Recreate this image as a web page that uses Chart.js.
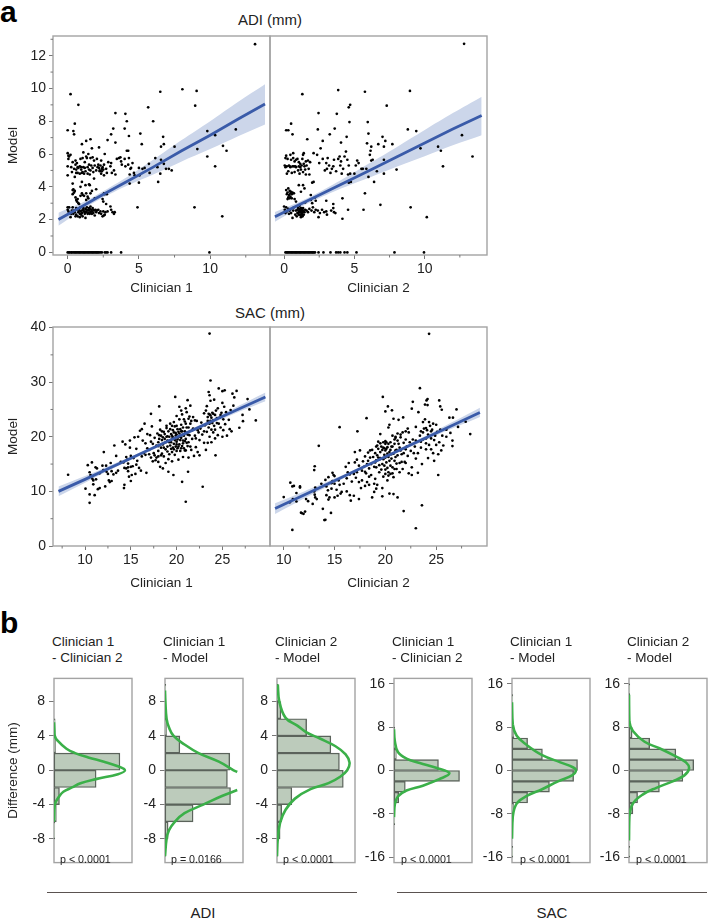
<!DOCTYPE html>
<html>
<head>
<meta charset="utf-8">
<title>ADI and SAC agreement</title>
<script src="https://cdn.jsdelivr.net/npm/chart.js@4"></script>
<style>
  html, body { margin: 0; padding: 0; background: #fff; overflow: hidden; }
  body { width: 708px; height: 921px; position: relative; font-family: 'Liberation Sans', Arial, sans-serif; color: #222; }
  canvas { position: absolute; }
  .txt { position: absolute; white-space: nowrap; line-height: 16px; }
  .mid { transform: translate(-50%, -50%); }
  .rule { position: absolute; height: 1.4px; background: #5a5250; }
</style>
</head>
<body>
<div class="txt" style="left:0;top:-5px;font:bold 30px 'Liberation Sans';line-height:34px;color:#000">a</div>
<div class="txt" style="left:0;top:606px;font:bold 30px 'Liberation Sans';line-height:34px;color:#000">b</div>
<div class="txt mid" style="left:270px;top:20px;font-size:15px">ADI (mm)</div>
<div class="txt mid" style="left:270px;top:313px;font-size:15px">SAC (mm)</div>
<div class="rule" style="left:47px;top:892px;width:310px"></div>
<div class="rule" style="left:397px;top:892px;width:310px"></div>
<div class="txt mid" style="left:203px;top:913px;font-size:15px">ADI</div>
<div class="txt mid" style="left:552px;top:913px;font-size:15px">SAC</div>
<script>
// --- regression fits ---
const adiClin1BandX = [-0.65, 1, 2, 4, 6, 8, 10, 12, 13.85];
const adiClin1Line = [2.0, 2.8, 3.3, 4.25, 5.2, 6.2, 7.15, 8.15, 9.05];
const adiClin1Upper = [2.42, 3.02, 3.48, 4.5, 5.65, 6.85, 8.0, 9.2, 10.25];
const adiClin1Lower = [1.62, 2.6, 3.12, 4.0, 4.75, 5.55, 6.3, 7.1, 7.8];

const adiClin2BandX = [-0.65, 1, 2, 4, 6, 8, 10, 12, 14.05];
const adiClin2Line = [2.17, 2.87, 3.28, 4.13, 4.97, 5.82, 6.67, 7.52, 8.35];
const adiClin2Upper = [2.47, 3.05, 3.45, 4.38, 5.4, 6.42, 7.47, 8.5, 9.5];
const adiClin2Lower = [1.87, 2.69, 3.11, 3.88, 4.54, 5.22, 5.87, 6.54, 7.15];

const sacClin1BandX = [7.1, 10, 14, 18, 22, 26, 29.7];
const sacClin1Line = [10, 12.2, 15.3, 18.4, 21.4, 24.5, 27.3];
const sacClin1Upper = [10.9, 12.8, 15.65, 18.65, 21.7, 25.0, 28.1];
const sacClin1Lower = [9.1, 11.6, 14.95, 18.15, 21.1, 24.0, 26.5];

const sacClin2BandX = [9.15, 12, 15, 18, 21, 25, 29.3];
const sacClin2Line = [6.85, 9.35, 11.95, 14.6, 17.2, 20.7, 24.45];
const sacClin2Upper = [7.85, 10.0, 12.35, 14.85, 17.45, 21.15, 25.3];
const sacClin2Lower = [5.85, 8.7, 11.55, 14.35, 16.95, 20.25, 23.6];

// --- scatter values, [clinician, model] ---
const adiClin1Points = [[13.15,12.7],[0.2,9.65],[0.75,9],[8.05,9.95],[9.05,9.85],[6.5,9.8],[8.95,8.95],[5.65,8.85],[3.35,8.5],[4.05,8.45],[4.15,8],[6,8],[0.5,7.85],[0,7.45],[0.4,7.4],[0.45,7.2],[3.2,7.55],[4,7.55],[3.05,7.2],[4.3,7.1],[5.1,7.25],[9.8,7.4],[10.35,7.15],[11.8,7.5],[6.7,7.05],[2.8,6.85],[3.35,6.7],[5.2,6.6],[6.75,6.6],[6.55,6.45],[7.5,6.45],[10.9,6.5],[11.15,6.2],[9.1,6.3],[9.8,5.85],[10.35,5.25],[8.9,2.75],[4.9,2.75],[10.85,2.2],[6.35,4.3],[5,4.25],[4.35,4.2],
[0,6.05],[0.05,5.9],[0.1,5.85],[0.2,5.95],[0,5.25],[0.05,5.7],[0,4.7],[0.25,5.2],[0.3,4.9],[0.35,5.5],[0.45,5.1],[0.5,4.6],[0.55,5.35],[0.55,5.6],[0.6,5.05],[0.65,5.45],[0.7,5.2],[0.7,4.85],[0.75,5.15],[0.85,5.25],[0.85,4.8],[0.9,5.7],[0.95,5.2],[1,4.85],[1,6.6],[1.05,5.75],[1.1,5.2],[1.1,6.1],[1.15,4.8],[1.2,5.5],[1.25,4.95],[1.3,6.8],[1.3,5.85],[1.35,5.75],[1.4,5.2],[1.4,4.8],[1.45,6],[1.5,5.35],[1.5,5.05],[1.55,4.75],[1.6,6.9],[1.6,5.75],[1.65,5.3],[1.7,6.35],[1.75,5.15],[1.75,5.8],[1.8,4.9],[1.85,5.6],[1.9,5.3],[2,5],[2.05,5.7],[2.1,5.2],[2.2,6.4],[2.2,5.15],[2.25,5],[2.3,5.3],[2.35,4.8],[2.35,5.6],[2.4,5.1],[2.45,5.2],[2.5,5.05],[2.55,4.7],[2.55,5.35],[2.6,6],[2.7,5.1],[2.75,4.85],[2.85,5.5],[3,5.25],[3.05,5.45],[3.1,4.85],[3.25,5],[3.35,4.75],[3.45,5.7],[3.6,5.75],[3.7,5.8],[3.75,5.55],[3.8,5.35],[4,5.7],[4.05,5.25],[4.15,6.2],[4.25,6.2],[4.3,5.75],[4.25,5.35],[4.4,5.1],[4.45,5.15],[4.55,5.45],[4.65,4.85],[4.7,4.7],[4.35,4.75],[5,5.15],[5.05,4.7],[5.25,5.1],[5.4,5.15],[5.7,5.4],[5.75,4.85],[6.15,5.75],[6.3,5.2],[6.55,5.65],[6.5,4.8],[6.9,5.1],[7.1,5.1],[7.3,5],[6.75,5.4],
[0.35,4.2],[0.4,3.85],[0.35,3.8],[0.5,3.75],[0.35,3.55],[0.55,3.35],[0.6,3.2],[0.65,3.1],[0.7,3.25],[0.75,3],[0.8,2.95],[1,4.3],[1.25,4.1],[1.3,3.6],[1.4,3.4],[1.45,3.3],[1.5,4.15],[1.55,4.1],[1,3.6],[0.9,3.45],[1.05,3.5],[1.15,3.45],[1.85,4.5],[1.7,3.75],[1.9,3.3],[2,3.85],[2.55,3.6],[2.6,3.55],[2.75,3.55],[2.45,3.25],[2.5,3.1],[2.7,2.95],[1.3,3.2],[0.45,3.65],[0.9,4],[1.6,3.6],
[0,2.75],[0,2.6],[0.05,2.5],[0.1,2.75],[0.1,2.4],[0.2,2.15],[0.3,2.55],[0.35,2.75],[0.4,2.35],[0.45,2.55],[0.5,2.45],[0.6,2.7],[0.6,2.3],[0.7,2.2],[0.75,2.45],[0.8,2.6],[0.85,2.35],[0.85,2.15],[0.9,2.75],[0.95,2.3],[1,2.55],[1,2.4],[1.05,2.2],[1.1,2.7],[1.15,2.5],[1.2,2.35],[1.25,2.1],[1.25,2.65],[1.3,2.45],[1.35,2.75],[1.4,2.55],[1.45,2.4],[1.5,2.7],[1.5,2.55],[1.55,2.35],[1.6,2.45],[1.6,2.8],[1.65,2.6],[1.7,2.5],[1.75,2.7],[1.8,2.4],[1.85,2.55],[1.9,2.25],[1.95,2.6],[2,2.45],[2.05,2.55],[2.2,2.4],[2.3,2.5],[2.35,2.35],[2.45,2.2],[2.5,2.5],[2.55,2.25],[2.65,2.45],[2.8,2.5],[3,2.8],[3.05,2.6],[3.15,2.45],[3.25,2.35],[3.3,2.45],
[0.9,2.5],[1.1,2.6],[1.2,2.45],[1.3,2.6],[1.4,2.35],[1.45,2.6],[1.55,2.65],[1.7,2.35],[1.8,2.6],[2.15,2.6],[2.6,2.3],[0.65,2.6],[0.55,2.2],[0.25,2.35],[1.2,5.15],[1.6,5],[2.15,5.35],[2.25,4.95],[2.4,4.95],[0.6,4.85],[1.05,4.9],[0.95,5.05]];
const adiClin1Zeros = [0,0.08,0.15,0.25,0.3,0.4,0.48,0.55,0.62,0.7,0.78,0.85,0.92,1,1.08,1.15,1.22,1.3,1.38,1.45,1.52,1.6,1.68,1.75,1.82,1.9,1.98,2.05,2.12,2.2,2.3,2.4,2.6,2.7,2.8,3.05,3.75,9.95];

const adiClin2Points = [[12.8,12.72],[1.3,9.65],[3.85,9.9],[5.75,9.8],[8.95,9.85],[4.7,9],[4.6,8.85],[7.3,8.95],[2.45,8.5],[3.75,8.45],[4.65,7.95],[5.95,7.95],[0.5,7.85],[0.15,7.45],[0.3,7.45],[0.6,7.2],[2.4,7.5],[3.6,7.55],[3.25,7.2],[4.45,7.05],[6,7.25],[4.05,6.7],[1.65,6.9],[8.8,7.5],[9.4,7.4],[12.65,7.15],[7,7.05],[7.2,6.8],[2.75,6.8],[5.9,6.65],[6.2,6.45],[6.7,6.6],[7.1,6.45],[7.7,6.6],[10.95,6.45],[11.15,6.2],[9.7,6.35],[13.4,5.85],[11.3,5.25],[9,2.75],[5.65,2.6],[6.85,2.9],[5.75,3.6],[4.55,2.6],[10.15,2.15],[4.15,2.05],[4.15,3.3],
[0.05,5.3],[0.1,5.75],[0.15,5.9],[0.1,5.2],[0.2,5.25],[0.25,5.7],[0.2,4.8],[0.3,4.95],[0.35,5.3],[0.45,5.95],[0.45,5.2],[0.5,5.65],[0.55,4.85],[0.6,5.25],[0.65,6.05],[0.65,5.75],[0.7,5.25],[0.75,4.9],[0.75,5.55],[0.85,5.65],[0.85,5.2],[0.95,5.7],[1,5],[1.05,5.25],[1.1,4.8],[1.15,5.4],[1.2,5.05],[1.25,5.3],[1.3,5.7],[1.35,5.95],[1.35,4.9],[1.4,6.05],[1.45,5.25],[1.5,5.05],[1.55,4.75],[1.6,5.3],[1.7,5.6],[1.75,5.1],[1.8,4.75],[1.85,5.5],[2,4.25],[2.1,6.05],[2.35,5.95],[2.5,5.45],[2.6,6.35],[2.75,5.7],[2.9,5],[3,5.45],[3.05,5.1],[3.1,5.75],[3.2,5.3],[3.3,4.85],[3.4,5.1],[3.5,5.25],[3.55,5.65],[3.7,4.95],[3.85,5.7],[3.95,5.85],[4,5.3],[4.05,5.55],[4.1,4.8],[4.2,5.1],[4.3,5.85],[4.4,6.15],[4.5,5.65],[4.55,4.75],[4.6,5.3],[4.7,4.8],[4.75,4.3],[4.6,4.25],[5,4.8],[5.1,5.3],[5.2,5.6],[5.3,5.45],[5.5,5.1],[5.6,5.1],[5.85,5.1],[6,4.6],[6.1,5.95],[6.15,6.2],[6.2,5.6],[6.3,5.65],[6.4,4.3],[6.6,4.95],[7.1,5.65],[7.1,4.8],[8,5.05],
[0.15,3.8],[0.2,3.55],[0.25,3.65],[0.3,3.9],[0.35,3.5],[0.4,3.75],[0.45,3.4],[0.5,3.7],[0.55,3.3],[0.6,3.65],[0.7,3.6],[0.75,3.25],[0.85,3.1],[1.05,4.1],[1.2,3.7],[1.35,4.1],[1.45,3.9],[1.5,3.05],[1.9,3.5],[2.1,4.3],[1.9,3.2],[2,3],[2.25,3.15],[2.2,3.35],[3,3.15],[3.5,2.95],
[0,2.8],[0.05,2.6],[0.1,2.4],[0.15,2.75],[0.2,2.5],[0.3,2.65],[0.35,2.35],[0.4,2.55],[0.5,2.4],[0.6,2.1],[0.65,2.55],[0.7,2.75],[0.8,2.3],[0.85,2.55],[0.9,2.2],[0.95,2.4],[1,2.7],[1.05,2.5],[1.05,2.3],[1.1,2.85],[1.12,2.6],[1.15,2.45],[1.18,2.25],[1.2,2.7],[1.22,2.55],[1.25,2.35],[1.28,2.6],[1.3,2.45],[1.32,2.2],[1.35,2.7],[1.38,2.5],[1.4,2.3],[1.6,2.55],[1.7,2.45],[1.8,2.65],[1.95,2.55],[2.05,2.75],[2.15,2.45],[2.25,2.6],[2.4,2.55],[2.45,2.15],[2.55,2.4],[2.7,2.6],[2.85,2.45],[3,2.5],[3.05,2.3],[3.35,2.55],[3.5,2.7],[3.55,2.45],[3.65,2.4],
[1,2.4],[1.1,2.65],[1.15,2.3],[1.25,2.5],[1.3,2.3],[1.35,2.55],[1.45,2.45],[1.5,2.6],[0.95,2.6],[1.2,2.15],[0.4,5.25],[0.8,5.25],[1.05,5.5],[1.15,5.2],[1.4,5.4],[1.55,5.55],[0.25,3.25],[0.3,3.35],[0.4,3.3],[0.45,3.6],[0.55,3.55]];
const adiClin2Zeros = [0.1,0.18,0.25,0.32,0.4,0.48,0.55,0.62,0.7,0.78,0.85,0.92,1,1.08,1.15,1.22,1.3,1.38,1.45,1.52,1.6,1.68,1.75,1.82,1.9,1.98,2.05,2.12,2.2,2.45,2.8,3.3,3.7,3.85,4,4.3,4.5,5.15,7.85,9.95];

const sacClin1Points = [[23.6,38.9],[23.7,30.3],[19.85,27.3],[18.1,25.55],[24.6,28.85],[25,28.35],[25.25,28.5],[26.55,28.4],[26.1,27.9],[8.15,13.05],[10.5,7.9],[21,8.1],[22.85,10.85],[20.6,11.75],[19.65,13],[21.25,13.6],[24.25,16.6],[28.65,23],[27.75,26.9],[27.95,25],[27.2,24],[27.25,22.85],[26.85,21.65],
[10.05,10.5],[10.3,14.8],[10.5,13.5],[10.5,9.45],[10.6,13],[10.75,15.3],[10.8,12.3],[10.9,12],[10.9,11.3],[11.05,9.3],[11.15,14.4],[11.3,14.2],[11.4,10.4],[11.6,10.6],[11.6,13.3],[11.9,14.7],[12,13.9],[12.05,17.2],[12.2,10.9],[12.3,14.7],[12.35,13.6],[12.5,13.2],[12.6,12],[12.7,11.7],[12.9,11.9],[13.1,13.1],[13.2,18.4],[13.4,16.5],[13.4,13.4],[13.6,13.8],[13.9,15.4],[14.1,19.1],[14.2,15.3],[14.25,10.6],[14.3,11.2],[14.4,18.6],[14.5,14.2],[14.5,16.3],[14.6,15.8],[14.7,14.4],[14.7,13.7],[14.8,12.7],[14.9,19.3],[14.9,18],[15,11.9],[15,14.5],[15.1,13],[15.3,16.1],[15.4,19.9],[15.5,13.2],[15.6,14.9],[15.7,15.6],[15.8,20],[15.9,14.3],[16.1,13.8],[16,21.1],[16.2,21.4],[16.3,19.3],[16.4,17],[16.5,22.4],[16.6,18.8],[16.7,13.4],[16.8,20.5],[17,17.6],[17,16.8],[17.1,20.3],[17.2,19.1],[17.2,24.2],[17.3,21.9],[17.4,18.7],[17.5,17],[17.6,16.6],[17.7,15.7],[18,17.4],[18,19],[18,16.4],[18.1,20.3],[18.2,21.3],[18.2,23],[18.3,16.6],
[18.4,19.4],[18.5,14.2],[18.5,18.6],[18.6,20.9],[18.7,19.6],[18.8,17.7],[18.8,15.2],[18.9,21.6],[19,20.1],[19,18.2],[19.1,13.6],[19.2,19],[19.2,16.8],[19.3,22.4],[19.4,20.5],[19.4,17.8],[19.5,19.6],[19.5,15.5],[19.6,21.2],[19.7,18.7],[19.7,22.7],[19.8,16.7],[19.9,20.2],[20,19.1],[20,17.4],[20,23.8],[20.1,21.4],[20.2,18.2],[20.2,15.8],[20.3,20.6],[20.3,25.5],[20.4,19.4],[20.5,22.2],[20.5,17.9],[20.6,21],[20.6,24.1],[20.7,18.8],[20.7,16.3],[20.8,20.2],[20.9,22.8],[20.9,17.5],[21,19.6],[21,25.2],[21.1,21.7],[21.2,26.7],[21.2,18.3],[21.3,23.3],[21.3,16.2],[21.4,20.3],[21.5,25.7],[21.5,22.4],[21.6,17.6],[21.7,21.2],[21.8,23.6],[21.9,16.5],[22,20.2],[22.1,18.1],[22.2,22.9],[22.3,17.2],[22.4,20.8],[22.5,16.6],[22.6,21.5],[22.8,20.4],[23,24.3],[23,18.9],[23.1,22.1],[23.2,17.6],[23.3,25.6],[23.3,20.9],[23.4,23.6],[23.4,18.9],[23.5,28.2],[23.5,24.2],[23.6,27.6],[23.6,22.4],[23.6,20],[23.7,26.6],[23.7,23.9],[23.8,21.3],[23.8,19],[23.9,24.4],[24,23],[24,20.8],[24.1,26.8],[24.2,24],[24.2,19.7],[24.4,22.5],[24.5,25.2],[24.5,20.3],[24.7,23.5],[24.8,21.7],[24.9,24.4],[25,26.2],[25,20],[25.1,23.2],[25.2,25.5],[25.3,22.3],[25.4,24.5],[25.5,20.2],[25.7,23.1],[25.8,21.4],[25.9,24.9],[26.2,25.7],[26.3,27.2],[26,21],
[17.6,19.8],[17.8,18.4],[17.9,20.6],[18,18.3],[18.1,19.6],[18.3,20.2],[18.3,18],[18.4,21],[18.5,19.9],[18.6,18],[18.6,16.4],[18.7,20.5],[18.8,19],[18.9,22],[18.9,20],[19,19.3],[19,17.3],[19.1,21],[19.1,15.9],[19.2,20],[19.3,18.4],[19.3,21.4],[19.4,19],[19.5,22],[19.5,20.2],[19.5,17.2],[19.6,19.9],[19.6,18],[19.7,20.8],[19.7,17.7],[19.8,19.4],[19.8,21.9],[19.9,18.2],[19.9,20.7],[20,20.4],[20,22],[20,18.6],[20.1,19.5],[20.1,17.9],[20.2,20.9],[20.2,19.9],[20.3,18.6],[20.3,23.2],[20.4,21.4],[20.4,17.4],[20.5,19.8],[20.5,21],[20.5,24.8],[20.6,18.3],[20.6,20.3],[20.7,21.7],[20.7,19.3],[20.8,17.9],[20.8,23.2],[20.9,21],[20.9,19.2],[21,20.7],[21,17.5],[21,22.4],[21.1,18.9],[21.1,24.5],[21.2,20.4],[21.3,21.7],[21.3,19],[21.4,23.7],[21.5,18.2],[21.6,22.9],[21.7,19.6],[21.8,21.5],[22,23],[22.1,19.7],[22.3,21.2],[22.5,19.4],[22.7,22.6],[23,21],[23.2,24.8],[23.4,22.9],[23.5,21.7],[23.6,24.1],[23.7,22.9],[23.8,23.5],[23.9,22.5],[24,24.2],[24.1,22],[24.2,21.3],[24.3,24.8],[24.4,23.4],[24.6,22.4],[24.8,24],[25.1,21.2],[15.6,17.8],[16.2,16.4],[16.6,16.7],[16.8,17.9],[17.2,16.2],[17.4,15.5],[17.8,16.2],[18,15.4],[18.2,14.5],[18.4,16.9],[15.2,14.6],[15,16.5],[14.7,15.1],[14.3,14.3],[12.9,13.7],[11.2,12.2],[12.8,15.2]];

const sacClin2Points = [[24.3,38.85],[23.4,28.9],[19.75,27.3],[22.7,26.4],[24.15,26.9],[24.05,26.65],[25.3,26.65],[23.9,25.9],[24.15,25.8],[25.4,25.55],[25.55,24.95],[20.25,25.55],[20,24.65],[20.65,24.85],[18.15,23.4],[15.5,21.75],[17.25,21],[13.45,18.35],[22.6,25.15],[23.25,24.5],[21.75,23.55],[26.3,23.5],[26.65,23.5],[27,25],[27.9,22.75],[28.35,20.5],[27.15,21.8],[10.85,2.95],[23,3.25],[23.6,7.45],[21.8,6.4],[14,4.75],[14.1,4.8],[14.65,6.05],[11.7,6.1],[11.8,6],[11.95,5.9],[12.1,6.3],[10,8.95],[10.65,11.6],[25.2,13],
[10.6,8],[10.9,8.6],[11,11],[10.85,10.9],[11.25,9.7],[11.25,8.15],[11.6,10.9],[11.6,10.7],[12.2,8.6],[12.4,8.2],[12.85,7.7],[13.05,9.4],[13.1,8.9],[13.05,14.6],[13,13.9],[13.25,8.6],[13.7,11.4],[13.85,6.8],[14.1,11.1],[14.2,10.9],[14.2,9.3],[14.35,10.2],[14.4,8.5],[14.5,8.9],[14.7,11.5],[14.7,10.5],[14.8,13.4],[14.9,13],[15,12.8],[15,11.4],[15,8.9],[15.2,10.3],[15.3,9.2],[15.5,11.2],[15.6,9.6],[15.7,9.9],[16.1,14.5],[16.2,10],[16.4,15.2],[16.5,9.3],[16.6,8.3],[16.7,11.8],[16.9,9.2],[17,17.2],[17,15.3],[17.1,12.5],[17.2,15.8],[17.4,14.7],[17.4,8.6],[17.5,17.5],[17.6,10.6],[17.7,12],[17.9,14.5],[18,16.4],[18,11],[18.1,13.3],[18.2,15],[18.2,11.7],[18.3,17.1],[18.4,14.2],[18.4,11.2],[18.5,16.2],[18.6,13],[18.7,8.9],[18.7,17.6],[18.9,9.9],[19,15.3],[19,12.3],[19.1,18.2],[19.1,14.4],[19.2,11.2],[19.2,16.6],[19.3,17.8],[19.4,13.5],[19.4,15.8],[19.5,20.5],[19.5,17.2],[19.7,9.1],[19.7,15],[19.8,18],[19.8,12.7],[19.9,16.7],[20,14],[20,19.2],[20,17.5],[20.1,15.3],[20.2,12],[20.2,18.1],[20.3,21.7],[20.3,16.3],[20.3,13.5],[20.4,9.6],[20.4,22.2],[20.5,17.6],[20.5,14.7],[20.6,16.8],[20.7,18.2],[20.7,13.3],[20.8,9.5],[20.8,23.3],[20.9,19.5],[20.9,15.6],[21,17.5],[21,20],[21.1,14.1],[21.2,19.3],[21.2,16.6],[21.2,8.9],[21.3,23.1],[21.4,18],[21.4,15.2],[21.5,20.4],[21.6,16.8],[21.7,14.1],[21.8,18.9],[21.9,15.4],[22,21],[22,17.7],[22.2,16.5],[22.2,21.5],[22.4,19],[22.6,14.4],[22.6,13],[22.8,17],[22.9,18.2],[23,21.8],[23,16],[23.2,13.4],[23.4,20.2],[23.5,18],[23.6,15],[23.7,22.7],[23.7,19.5],[23.8,21.5],[23.9,23.2],[24,17.7],[24,19.7],[24.1,21.2],[24.2,16.1],[24.3,18.5],[24.4,22],[24.5,19.7],[24.6,21.3],[24.7,17],[24.8,15.6],[24.9,20.2],[25,22.2],[25,18.5],[25.1,20.9],[25.2,16.8],[25.3,19],[25.4,21.3],[25.5,17.5],[25.6,20.2],[25.7,18.4],[26,21.3],[26,20],[26.4,20.7],[26.6,19.3],[26.6,18.3],
[18.3,15.6],[18.5,17.5],[18.6,15],[18.8,16.3],[18.9,14.5],[19,17],[19.1,15.7],[19.2,18.4],[19.3,16.2],[19.3,19.1],[19.4,14.8],[19.5,18.8],[19.5,16.1],[19.6,18.2],[19.6,14],[19.7,17.6],[19.8,19],[19.8,15.9],[19.9,17.9],[19.9,14.7],[20,18.7],[20,16.2],[20,13.2],[20.1,17.8],[20.1,19],[20.2,14.3],[20.2,16.9],[20.3,18.7],[20.3,12.9],[20.4,15.6],[20.4,17.2],[20.5,19],[20.5,13.2],[20.6,16],[20.6,18.2],[20.7,14.4],[20.7,20.2],[20.8,16.9],[20.8,12.6],[20.9,18.7],[20.9,14.1],[21,16.3],[21,19.8],[21.1,17.6],[21.1,15.1],[21.2,20.6],[21.3,18.7],[21.4,13.5],[21.5,17.5],[21.5,19.9],[21.6,15.4],[21.7,20.8],[21.8,17],[22,19.5],[22,15.2],[22.1,18.2],[22.3,20.8],[22.3,13.3],[22.5,17.4],[22.7,19.5],[23,19.3],[23.2,17],[23.5,21],[23.5,19.1],[23.7,20.8],[24,21.6],[24.2,20.4],[24.3,22.7],[24.5,21],[24.7,22.4],[24.8,19.4],[24,18.8],[24.5,17.7],[17.2,13.5],[17.4,11.7],[17.7,13.8],[17.8,15.5],[18,13.6],[16.9,13.2],[16.5,13.1],[16.3,13.5],[16.2,12.4],[15.9,11.4],[15.4,12],[14.8,11.9],[14.4,12.6],[14.1,12.1],[13.1,10.7],[13,10],[18.4,12.7],[18.9,11.4],[19.1,10.5],[19.7,10.6]];

// --- histogram bins (centre, share of panel width) and fitted curves (share, difference) ---
const diffBinsA = [5, 3, 1, -1, -3, -5, -7];
const diffBarsA = [1.5, 2, 84.5, 54, 7, 3, 1];
const diffCurveA = [[0,5.6],[0.5,4.6],[1,4],[4,3.5],[16,2.5],[27,2],[44,1.5],[64,1],[81,0.5],[91,0],[82,-0.45],[55,-1],[34,-1.5],[23,-2],[12,-2.5],[7,-3],[1,-4],[0,-6]];

const diffBinsB = [9, 7, 5, 3, 1, -1, -3, -5, -7, -9];
const diffBarsB = [1, 1, 2, 19, 83, 80, 84, 36, 4, 1];
const diffCurveB = [[0,9.3],[0.5,8],[2,6],[5,5],[11,4],[25,3],[43,2],[69,1],[88,0],[92.6,-0.2],[null,null],[92.6,-2.3],[73,-3],[49,-4],[25,-5],[12.5,-6],[5,-7],[2,-8],[0,-10]];

const diffBinsC = [9, 7, 5, 3, 1, -1, -3, -5, -7, -9];
const diffBarsC = [1, 5, 38, 69, 80, 85, 19, 6, 4, 1];
const diffCurveC = [[1,10],[3,8],[11,6.1],[26,5.2],[38,4.4],[55,3.7],[75,2.8],[88,1.85],[93,0.9],[90,0],[81,-0.75],[66,-1.5],[43,-2.2],[23,-3.3],[11,-4.6],[4,-6.1],[1,-8],[0,-10]];

const diffBinsD = [7, 5, 3, 1, -1, -3, -5, -7, -9];
const diffBarsD = [1, 1, 3, 57, 84, 14.5, 6, 1, 1];
const diffCurveD = [[0,7.6],[1,5.5],[5,3.4],[16,2.2],[33,1.4],[54,0.5],[71,-0.5],[58,-1.6],[37,-2.8],[16,-3.7],[5,-4.8],[1,-6.3],[0,-8.6]];

const diffBinsE = [13, 7, 5, 3, 1, -1, -3, -5, -7, -15];
const diffBarsE = [1, 2.5, 20, 39, 84, 79, 48, 20, 2, 1];
const diffCurveE = [[0,12.6],[1,8.5],[6,6.4],[19,4.7],[38,2.9],[62,1.5],[78,0.6],[82,0],[77,-0.9],[59,-2],[38,-3.5],[19,-4.7],[6,-6.1],[1,-8.5],[0,-12.6]];

const diffBinsF = [15, 13, 11, 7, 5, 3, 1, -1, -3, -5, -7, -9, -15];
const diffBarsF = [1, 1, 1, 4, 26.5, 60, 83, 69, 39, 11, 5, 1, 1];
const diffCurveF = [[0,14],[0.5,9],[5,7.3],[20,5.3],[39,4.1],[60,2.6],[73,1.5],[77,0.4],[71,-0.9],[56,-2],[35,-3.2],[18,-4.4],[5,-6.1],[0.5,-8.5],[0,-12.9]];

// --- axis ticks ---
const adiXTicks = [0, 5, 10];
const adiXMinor = [2.5, 7.5, 12.5];
const adiYTicks = [0, 2, 4, 6, 8, 10, 12];
const adiYMinor = [1, 3, 5, 7, 9, 11, 13];
const sacXTicks = [10, 15, 20, 25];
const sacXMinorLeft = [7.5, 12.5, 17.5, 22.5, 27.5];
const sacXMinorRight = [12.5, 17.5, 22.5, 27.5];
const sacYTicks = [0, 10, 20, 30, 40];
const sacYMinor = [5, 15, 25, 35];
const adiDiffTicks = [-8, -4, 0, 4, 8];
const sacDiffTicks = [-16, -8, 0, 8, 16];

const FONT = "'Liberation Sans', Arial, sans-serif";
const INK = '#222';
const FRAME = '#a3a3a3';
const TICK = '#777';

Chart.defaults.animation = false;
Chart.defaults.font.family = FONT;
Chart.defaults.color = INK;

function addCanvas(left, top, width, height) {
    const c = document.createElement('canvas');
    c.width = width;
    c.height = height;
    c.style.left = left + 'px';
    c.style.top = top + 'px';
    c.style.width = width + 'px';
    c.style.height = height + 'px';
    document.body.appendChild(c);
    return c;
}

function pairs(list) {
    return list.map(([x, y]) => ({ x, y }));
}

function series(xs, ys) {
    return xs.map((x, i) => ({ x, y: ys[i] }));
}

// frame round the plot plus the short minor ticks
function framePlugin(minorX, minorY) {
    return {
        id: 'frame',
        beforeDatasetsDraw(chart) {
            const { ctx, chartArea: a, scales } = chart;
            ctx.save();
            ctx.strokeStyle = FRAME;
            ctx.lineWidth = 1.4;
            ctx.strokeRect(a.left, a.top, a.right - a.left, a.bottom - a.top);
            ctx.strokeStyle = TICK;
            ctx.lineWidth = 1;
            ctx.beginPath();
            (minorX || []).forEach(v => {
                const p = scales.x.getPixelForValue(v);
                ctx.moveTo(p, a.bottom);
                ctx.lineTo(p, a.bottom + 2.5);
            });
            (minorY || []).forEach(v => {
                const p = scales.y.getPixelForValue(v);
                ctx.moveTo(a.left, p);
                ctx.lineTo(a.left - 2.5, p);
            });
            ctx.stroke();
            ctx.restore();
        }
    };
}

function fixedTicks(values) {
    return scale => { scale.ticks = values.map(value => ({ value })); };
}

function scatterPanel(p) {
    const yVisible = !!p.yTitle;
    const padLeft = yVisible ? 5 : 10;
    const yWidth = yVisible ? p.left - 5 : 0;
    const left = yVisible ? 0 : p.left - 10;
    const canvas = addCanvas(left, p.top - 12, p.left + p.width + 10 - left, 12 + p.height + p.xHeight);
    new Chart(canvas, {
        type: 'scatter',
        data: {
            datasets: [
                { data: series(p.bandX, p.line), showLine: true, borderColor: '#3a5ba9', borderWidth: 2.8, pointRadius: 0 },
                { data: pairs(p.points), backgroundColor: '#000', borderWidth: 0, pointRadius: 1.35 },
                { data: series(p.bandX, p.upper), showLine: true, tension: 0.3, borderWidth: 0, pointRadius: 0, backgroundColor: '#ccd6ea', fill: '+1' },
                { data: series(p.bandX, p.lower), showLine: true, tension: 0.3, borderWidth: 0, pointRadius: 0 }
            ]
        },
        options: {
            responsive: false,
            events: [],
            layout: { padding: { left: padLeft, right: 10, top: 12, bottom: 0 } },
            plugins: { legend: { display: false }, tooltip: { enabled: false } },
            scales: {
                x: {
                    type: 'linear', min: p.xMin, max: p.xMax,
                    afterBuildTicks: fixedTicks(p.xTicks),
                    afterFit: s => { s.height = p.xHeight; },
                    grid: { drawOnChartArea: false, color: TICK, tickLength: 4 },
                    border: { display: false },
                    ticks: { font: { size: 14 }, padding: 2, maxRotation: 0, color: INK },
                    title: { display: true, text: p.xTitle, font: { size: 13.5 }, color: INK, padding: 0 }
                },
                y: {
                    type: 'linear', display: yVisible, min: p.yMin, max: p.yMax,
                    afterBuildTicks: fixedTicks(p.yTicks),
                    afterFit: s => { s.width = yWidth; },
                    grid: { drawOnChartArea: false, color: TICK, tickLength: 4 },
                    border: { display: false },
                    ticks: { font: { size: 14 }, padding: 3, color: INK },
                    title: { display: yVisible, text: p.yTitle, font: { size: 13.5 }, color: INK, padding: 0 }
                }
            }
        },
        plugins: [framePlugin(p.xMinor, p.yMinor)]
    });
}

function histPanel(p) {
    const top = 678, height = 193, width = 78;
    const left = p.yTitle ? 0 : p.left - 45;
    const canvas = addCanvas(left, top - 12, p.left + width + 1 - left, 12 + height + 4);
    new Chart(canvas, {
        type: 'bar',
        data: {
            datasets: [
                { type: 'scatter', data: pairs(p.curve), showLine: true, tension: 0.4, borderColor: '#3bb049', borderWidth: 2.6, pointRadius: 0 },
                { type: 'bar', indexAxis: 'y', data: series(p.bars, p.bins),
                  backgroundColor: '#bccbbb', borderColor: '#5b635b', borderWidth: 1.4, borderSkipped: false,
                  categoryPercentage: 1, barPercentage: 1 }
            ]
        },
        options: {
            responsive: false,
            events: [],
            indexAxis: 'y',
            layout: { padding: { left: p.yTitle ? 5 : 0, right: 1, top: 12, bottom: 4 } },
            plugins: { legend: { display: false }, tooltip: { enabled: false } },
            scales: {
                x: { type: 'linear', display: false, min: 0, max: 100 },
                y: {
                    type: 'linear', offset: false, min: p.yMin, max: p.yMax,
                    afterBuildTicks: fixedTicks(p.yTicks),
                    afterFit: s => { s.width = p.yTitle ? p.left - 5 : 45; },
                    grid: { offset: false, drawOnChartArea: false, color: TICK, tickLength: 5 },
                    border: { display: false },
                    ticks: { font: { size: 14 }, padding: 4, color: INK },
                    title: { display: !!p.yTitle, text: p.yTitle, font: { size: 13.5 }, color: INK, padding: 0 }
                }
            }
        },
        plugins: [framePlugin()]
    });
    // heading over the panel and p value inside it
    const head = document.createElement('div');
    head.className = 'txt';
    head.style.cssText = 'left:' + (p.left - 2) + 'px;top:634px;font-size:13.5px';
    head.innerHTML = p.head[0] + '<br>' + p.head[1];
    document.body.appendChild(head);
    const pv = document.createElement('div');
    pv.className = 'txt';
    pv.style.cssText = 'left:' + (p.left + p.pOffset) + 'px;top:851px;font-size:10.7px';
    pv.textContent = p.pValue;
    document.body.appendChild(pv);
}

scatterPanel({ left: 53, top: 36, width: 217, height: 219, xHeight: 41,
    xMin: -1.03, xMax: 14.2, yMin: -0.16, yMax: 13.2,
    xTicks: adiXTicks, xMinor: adiXMinor, yTicks: adiYTicks, yMinor: adiYMinor,
    xTitle: 'Clinician 1', yTitle: 'Model',
    bandX: adiClin1BandX, line: adiClin1Line, upper: adiClin1Upper, lower: adiClin1Lower,
    points: adiClin1Points.concat(adiClin1Zeros.map(x => [x, 0])) });

scatterPanel({ left: 270, top: 36, width: 217, height: 219, xHeight: 41,
    xMin: -1, xMax: 14.43, yMin: -0.16, yMax: 13.2,
    xTicks: adiXTicks, xMinor: adiXMinor, yTicks: adiYTicks,
    xTitle: 'Clinician 2',
    bandX: adiClin2BandX, line: adiClin2Line, upper: adiClin2Upper, lower: adiClin2Lower,
    points: adiClin2Points.concat(adiClin2Zeros.map(x => [x, 0])) });

scatterPanel({ left: 53, top: 327, width: 217, height: 219, xHeight: 45,
    xMin: 6.5, xMax: 30.2, yMin: 0, yMax: 40.1,
    xTicks: sacXTicks, xMinor: sacXMinorLeft, yTicks: sacYTicks, yMinor: sacYMinor,
    xTitle: 'Clinician 1', yTitle: 'Model',
    bandX: sacClin1BandX, line: sacClin1Line, upper: sacClin1Upper, lower: sacClin1Lower,
    points: sacClin1Points });

scatterPanel({ left: 270, top: 327, width: 217, height: 219, xHeight: 45,
    xMin: 8.65, xMax: 30, yMin: 0, yMax: 40.1,
    xTicks: sacXTicks, xMinor: sacXMinorRight, yTicks: sacYTicks,
    xTitle: 'Clinician 2',
    bandX: sacClin2BandX, line: sacClin2Line, upper: sacClin2Upper, lower: sacClin2Lower,
    points: sacClin2Points });

histPanel({ left: 54, yTitle: 'Difference (mm)', yMin: -10.75, yMax: 10.7, yTicks: adiDiffTicks,
    bins: diffBinsA, bars: diffBarsA, curve: diffCurveA, head: ['Clinician 1', '- Clinician 2'], pValue: 'p < 0.0001', pOffset: 6 });
histPanel({ left: 165, yMin: -10.75, yMax: 10.7, yTicks: adiDiffTicks,
    bins: diffBinsB, bars: diffBarsB, curve: diffCurveB, head: ['Clinician 1', '- Model'], pValue: 'p = 0.0166', pOffset: 6 });
histPanel({ left: 277, yMin: -10.75, yMax: 10.7, yTicks: adiDiffTicks,
    bins: diffBinsC, bars: diffBarsC, curve: diffCurveC, head: ['Clinician 2', '- Model'], pValue: 'p < 0.0001', pOffset: 6 });
histPanel({ left: 394, yMin: -17, yMax: 17, yTicks: sacDiffTicks,
    bins: diffBinsD, bars: diffBarsD, curve: diffCurveD, head: ['Clinician 1', '- Clinician 2'], pValue: 'p < 0.0001', pOffset: 7 });
histPanel({ left: 512, yMin: -17, yMax: 17, yTicks: sacDiffTicks,
    bins: diffBinsE, bars: diffBarsE, curve: diffCurveE, head: ['Clinician 1', '- Model'], pValue: 'p < 0.0001', pOffset: 8 });
histPanel({ left: 629, yMin: -17, yMax: 17, yTicks: sacDiffTicks,
    bins: diffBinsF, bars: diffBarsF, curve: diffCurveF, head: ['Clinician 2', '- Model'], pValue: 'p < 0.0001', pOffset: 7 });
</script>
</body>
</html>
